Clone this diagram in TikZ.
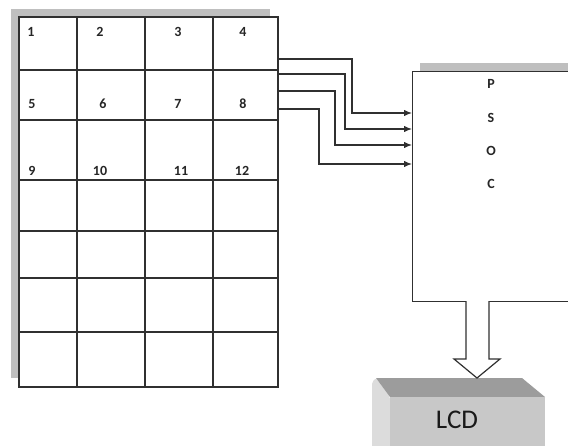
\documentclass[tikz,border=0pt]{standalone}
\usepackage{fontspec}
\setmainfont{Carlito}
\usetikzlibrary{arrows.meta}
\definecolor{shadowgray}{HTML}{BFBFBF}
\definecolor{linegray}{HTML}{303030}
\definecolor{lcdtop}{HTML}{9C9C9C}
\definecolor{lcdfront}{HTML}{C8C8C8}
\definecolor{lcdside}{HTML}{DCDCDC}
\tikzset{
  keyno/.style={font=\fontsize{14}{16}\selectfont\bfseries, text=black!85, inner sep=0pt, anchor=base},
  gridline/.style={draw=linegray, line width=1.3pt},
  wire/.style={draw=linegray, line width=1.2pt, -{Latex[length=8pt,width=6.5pt]}},
}
\begin{document}
\begin{tikzpicture}[x=1pt,y=-1pt]
  \useasboundingbox (0,0) rectangle (568,445);
  \clip (0,0) rectangle (568,445);
  % keypad
  \fill[shadowgray] (11,9) rectangle (270,378);
  \draw[gridline, fill=white] (19,17) rectangle (278,387);
  \foreach \x in {77,145,213} \draw[gridline] (\x,17) -- (\x,387);
  \foreach \y in {70,120,180,231,278,332} \draw[gridline] (19,\y) -- (278,\y);
  \foreach \n/\x/\y in {1/31/36, 2/100/36, 3/178/36, 4/243/36,
                        5/32/108, 6/103/108, 7/178/108, 8/243/108,
                        9/32/175, 10/100/175, 11/181/175, 12/242/175}
    \node[keyno] (k\n) at (\x,\y) {\n};
  % psoc
  \fill[shadowgray] (420,63) rectangle (580,71);
  \node[draw=linegray, line width=1.3pt, fill=white, minimum width=170pt, minimum height=230pt, anchor=north west, inner sep=0pt] (psoc) at (412,71) {};
  \node[keyno] (lp) at (491,88) {P};
  \node[keyno] (ls) at (491,122) {S};
  \node[keyno] (lo) at (491,155) {O};
  \node[keyno] (lc) at (491,188) {C};
  % wires
  \foreach \i/\a/\b/\c in {1/59/352/113, 2/74/345/129, 3/91/335/145, 4/109/319/164} {
    \coordinate (out\i) at (278,\a);
    \coordinate (in\i) at (412,\c);
    \draw[wire] (out\i) -| (\b,\c) -- (in\i);
  }
  % lcd
  \fill[lcdside, rounded corners=2pt] (372,450) -- (372,382) -- (376,378) -- (390,397) -- (390,450) -- cycle;
  \fill[lcdtop] (376,378) -- (522,378) -- (545,397) -- (390,397) -- cycle;
  \fill[lcdfront] (390,397) rectangle (545,450);
  \node[font=\fontsize{27}{30}\selectfont, text=black!90, anchor=base, inner sep=0pt] (lcd) at (457,428) {LCD};
  % bus arrow
  \coordinate (busin) at (477,301);
  \coordinate (busout) at (477,378);
  \draw[draw=linegray, line width=1.2pt, fill=white, line join=miter] (466,301) -- (466,359) -- (454,359) -- (busout) -- (500,359) -- (489,359) -- (489,301);
\end{tikzpicture}
\end{document}
